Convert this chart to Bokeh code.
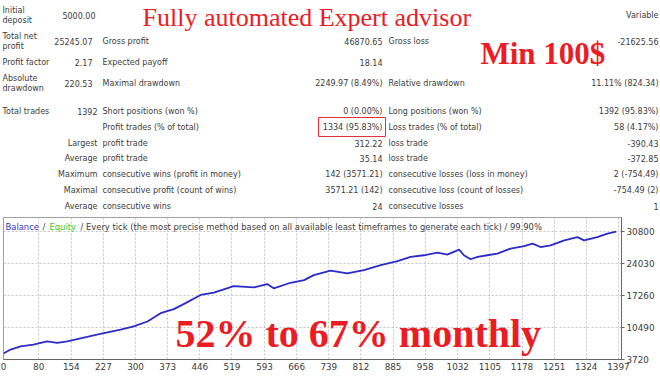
from bokeh.plotting import figure
from bokeh.models import Range1d, FixedTicker, Label, LabelSet, ColumnDataSource
from bokeh.layouts import column
from bokeh.embed import file_html
from bokeh.resources import INLINE
from bokeh.core.properties import value

# ---------------- data ----------------
trade_no = [0, 16, 39, 68, 99, 122, 145, 190, 220, 266, 296, 327, 357, 387, 406,
            448, 478, 523, 569, 599, 614, 652, 683, 705, 743, 781, 819, 857, 895,
            925, 955, 986, 1008, 1035, 1046, 1061, 1077, 1099, 1122, 1152, 1183,
            1202, 1220, 1243, 1274, 1304, 1319, 1349, 1372, 1392]
balance = [5000, 5816, 6508, 6864, 7556, 7220, 7556, 8478, 9107, 10008, 10700,
           11748, 13508, 14347, 15248, 17344, 17826, 19230, 18958, 19650, 18749,
           19922, 20488, 21536, 22480, 21893, 22584, 23632, 24470, 25372, 25728,
           26294, 25875, 26923, 25728, 24889, 25372, 25728, 26084, 27132, 27677,
           28180, 27467, 27824, 28872, 29563, 28872, 29563, 30276, 30700]
x_tick_values = [0, 80, 154, 227, 300, 373, 446, 519, 593, 666, 739, 812, 885,
                 958, 1032, 1105, 1178, 1251, 1324, 1397]
y_tick_values = [3720, 10490, 17260, 24030, 30800]

stat_names = ["Initial\ndeposit", "Total net\nprofit", "Profit factor",
              "Absolute\ndrawdown", "Total trades"]
stat_values = ["5000.00", "25245.07", "2.17", "220.53", "1392"]
row_prefixes = ["Largest", "Average", "Maximum", "Maximal", "Average"]
mid_labels = ["Gross profit", "Expected payoff", "Maximal drawdown",
              "Short positions (won %)", "Profit trades (% of total)",
              "profit trade", "profit trade",
              "consecutive wins (profit in money)",
              "consecutive profit (count of wins)", "consecutive wins"]
mid_values = ["46870.65", "18.14", "2249.97 (8.49%)", "0 (0.00%)",
              "1334 (95.83%)", "312.22", "35.14", "142 (3571.21)",
              "3571.21 (142)", "24"]
right_labels = ["Gross loss", "", "Relative drawdown", "Long positions (won %)",
                "Loss trades (% of total)", "loss trade", "loss trade",
                "consecutive losses (loss in money)",
                "consecutive loss (count of losses)", "consecutive losses"]
right_values = ["Variable", "-21625.56", "", "11.11% (824.34)", "1392 (95.83%)",
                "58 (4.17%)", "-390.43", "-372.85", "2 (-754.49)",
                "-754.49 (2)", "1"]

headline = "Fully automated Expert advisor"
min_note = "Min 100$"
monthly_note = "52% to 67% monthly"
chart_caption = ["Balance", "/", "Equity",
                 "/ Every tick (the most precise method based on all available least timeframes to generate each tick) / 99.90%"]

# ---------------- layout / style ----------------
W = 660
HT = 210
HB = 179
BL, BR = 3, 39          # chart borders
SANS = "DejaVu Sans"
SERIF = "Liberation Serif"
TXT = "#3c3c3c"
RED = "#ec1c24"
TABLE_FS = "8px"
BASE_FIX = 0.25         # baseline correction (fraction of font size)

ROW_Y = [15, 41, 62, 83, 110.5, 126.5, 142.5, 158, 174, 190, 205.5]
LINE_GAP = 10
STAT_VALUE_RIGHT = [95, 92, 92, 92, 97]
COL_LEFT0 = 2
COL_PREFIX_RIGHT = 97
COL_LEFT1 = 102
COL_RIGHT1 = 382
COL_LEFT2 = 388
COL_RIGHT2 = 658

top = figure(width=W, height=HT, x_range=Range1d(0, W),
             y_range=Range1d(HT, 0), output_backend="svg",
             toolbar_location=None, x_axis_location=None,
             y_axis_location=None, min_border=0, frame_align=False)
top.grid.visible = False
top.outline_line_color = None
top.background_fill_color = "white"
top.border_fill_color = "white"


def table_text(xs, ys, texts, align):
    ex, ey, et = [], [], []
    for x, y, t in zip(xs, ys, texts):
        parts = t.split("\n")
        n = len(parts)
        for k, part in enumerate(parts):
            ex.append(x)
            ey.append(y + (k - (n - 1) / 2) * LINE_GAP)
            et.append(part)
    src = ColumnDataSource(dict(x=ex, y=ey, text=et))
    top.add_layout(LabelSet(x="x", y="y", text="text", source=src,
                            text_align=align, text_baseline="middle",
                            text_font=value(SANS), text_font_size=TABLE_FS,
                            text_color=TXT))


n_stat = len(stat_names)
table_text([COL_LEFT0] * n_stat, ROW_Y[:n_stat], stat_names, "left")
table_text(STAT_VALUE_RIGHT, ROW_Y[:n_stat], stat_values, "right")
n_pre = len(row_prefixes)
table_text([COL_PREFIX_RIGHT] * n_pre, ROW_Y[-n_pre:], row_prefixes, "right")
table_text([COL_LEFT1] * len(mid_labels), ROW_Y[1:], mid_labels, "left")
table_text([COL_RIGHT1] * len(mid_values), ROW_Y[1:], mid_values, "right")
table_text([COL_LEFT2] * len(right_labels), ROW_Y[1:], right_labels, "left")
table_text([COL_RIGHT2] * len(right_values), ROW_Y, right_values, "right")

# red highlight box around the profit-trades cell
hl_row = mid_labels.index("Profit trades (% of total)") + 1
top.quad(left=[COL_RIGHT1 - 64], right=[COL_RIGHT1 + 3],
         top=[ROW_Y[hl_row] - 9.5], bottom=[ROW_Y[hl_row] + 9.5],
         fill_color=None, line_color="#e0303a", line_width=1)

HEAD_FS, MIN_FS, MONTH_FS = 26, 31, 40
top.add_layout(Label(x=142, y=23.3 - BASE_FIX * HEAD_FS, text=headline,
                     text_font=SERIF, text_font_size=f"{HEAD_FS}px",
                     text_color=RED, text_baseline="alphabetic"))
top.add_layout(Label(x=480, y=61 - BASE_FIX * MIN_FS, text=min_note,
                     text_font=SERIF, text_font_size=f"{MIN_FS}px",
                     text_font_style="bold", text_color=RED,
                     text_baseline="alphabetic"))

# ---------------- equity chart ----------------
X0, X1 = 0, 1404
Y0, Y1 = 3720, 33700
BT, BB = 7, 30
ch = figure(width=W, height=HB, x_range=Range1d(X0, X1),
            y_range=Range1d(Y0, Y1), output_backend="svg",
            toolbar_location=None, y_axis_location="right",
            min_border_left=BL, min_border_right=BR, min_border_top=BT,
            min_border_bottom=BB, frame_align=False)
ch.background_fill_color = "white"
ch.border_fill_color = "white"
ch.outline_line_color = "#a0a0a0"

ch.xaxis.ticker = FixedTicker(ticks=x_tick_values)
ch.yaxis.ticker = FixedTicker(ticks=y_tick_values)
for ax in (ch.xaxis, ch.yaxis):
    ax.axis_line_color = "#666666"
    ax.major_tick_line_color = "#666666"
    ax.minor_tick_line_color = None
    ax.major_tick_in = 0
    ax.major_label_text_font = SANS
    ax.major_label_text_font_size = "8.8px"
    ax.major_label_text_color = TXT
ch.xaxis.major_tick_out = 0
ch.xaxis.major_label_standoff = 3
ch.yaxis.major_tick_out = 3
ch.yaxis.major_label_standoff = 2

ch.grid.grid_line_color = "#c4c4c4"
ch.grid.grid_line_dash = "2 2"
ch.grid.grid_line_width = 1

ch.line(trade_no, balance, line_color="#2b2bc8", line_width=1.8)

FW = W - BL - BR
FH = HB - BT - BB


def fx(px):
    return X0 + px / FW * (X1 - X0)


def fy(py):
    return Y1 - py / FH * (Y1 - Y0)


cap_x = [5, 42, 49, 80]
cap_col = ["#3434c8", TXT, "#2ec82e", TXT]
for t, rx, c in zip(chart_caption, cap_x, cap_col):
    ch.add_layout(Label(x=fx(rx - BL), y=fy(9), text=t,
                        text_font=SANS, text_font_size="8.4px", text_color=c,
                        text_baseline="middle"))

ch.add_layout(Label(x=fx(175 - BL),
                    y=fy(342.7 - BASE_FIX * MONTH_FS - HT - BT),
                    text=monthly_note, text_font=SERIF,
                    text_font_size=f"{MONTH_FS}px", text_font_style="bold",
                    text_color=RED, text_baseline="alphabetic"))

layout = column(top, ch)
open("out.html", "w").write(file_html(layout, INLINE))
